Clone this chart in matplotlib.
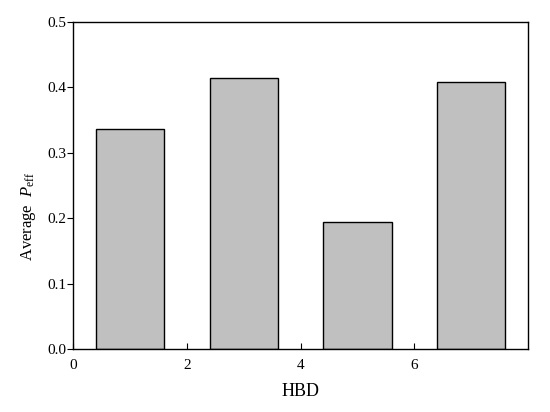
import matplotlib
matplotlib.use("Agg")
from matplotlib import pyplot as plt

# bar data
hbd = [1, 3, 5, 7]
avg_peff = [0.337, 0.414, 0.194, 0.408]

plt.rcParams['font.family'] = ['Liberation Serif', 'DejaVu Serif']
plt.rcParams['mathtext.fontset'] = 'custom'
plt.rcParams['mathtext.rm'] = 'Liberation Serif'
plt.rcParams['mathtext.it'] = 'Liberation Serif:italic'

fig = plt.figure(figsize=(5.5, 4.12), dpi=100)
ax = fig.add_axes([73 / 550, 1 - 349 / 412, (528 - 73) / 550, (349 - 22) / 412])

ax.bar(hbd, avg_peff, width=1.2, color='#c0c0c0', edgecolor='black', linewidth=1.0)

ax.set_xlim(0, 8)
ax.set_ylim(0, 0.5)
ax.set_xticks([0, 2, 4, 6])
ax.set_yticks([0.0, 0.1, 0.2, 0.3, 0.4, 0.5])
ax.set_yticklabels(['0.0', '0.1', '0.2', '0.3', '0.4', '0.5'])
ax.tick_params(axis='x', direction='in', length=4, labelsize=11, pad=7)
ax.tick_params(axis='y', direction='out', length=4, labelsize=11, pad=1)
for s in ax.spines.values():
    s.set_linewidth(1.0)

ax.set_xlabel('HBD', fontsize=13, labelpad=8)
ax.set_ylabel(r'Average  $P_{\mathrm{eff}}$', fontsize=12)
ax.yaxis.set_label_coords(-0.078, 0.405)

fig.savefig('out.png', dpi=100)
